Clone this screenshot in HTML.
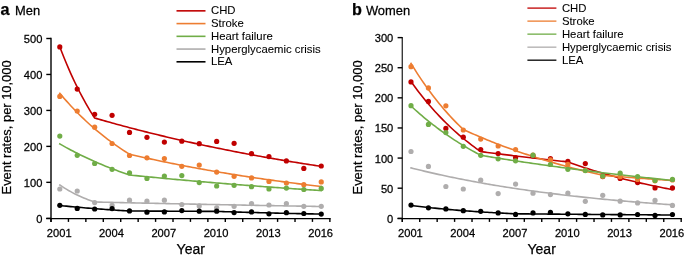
<!DOCTYPE html>
<html><head><meta charset="utf-8"><style>
html,body{margin:0;padding:0;background:#fff;width:685px;height:258px;overflow:hidden}
svg{display:block;will-change:transform}
text{font-family:"Liberation Sans", sans-serif;fill:#000;stroke:#000;stroke-width:0.25px}
.tk{font-size:11.15px}
.lg{font-size:11.35px;stroke-width:0.08px}
.ax{font-size:12.9px}
.yr{font-size:14px}
.ttl{font-size:12.9px}
.let{font-size:16.2px;font-weight:bold}
</style></head><body>
<svg width="685" height="258" viewBox="0 0 685 258">
<line x1="51.0" y1="37.80" x2="51.0" y2="221.9" stroke="#000000" stroke-width="1.4"/>
<line x1="46.2" y1="218.55" x2="330.58" y2="218.55" stroke="#000000" stroke-width="1.3"/>
<line x1="46.3" y1="218.30" x2="51.0" y2="218.30" stroke="#000000" stroke-width="1.4"/>
<text transform="translate(42.40,222.80) scale(1,1.04)" text-anchor="end" class="tk">0</text>
<line x1="46.3" y1="182.34" x2="51.0" y2="182.34" stroke="#000000" stroke-width="1.4"/>
<text transform="translate(42.40,186.84) scale(1,1.04)" text-anchor="end" class="tk">100</text>
<line x1="46.3" y1="146.38" x2="51.0" y2="146.38" stroke="#000000" stroke-width="1.4"/>
<text transform="translate(42.40,150.88) scale(1,1.04)" text-anchor="end" class="tk">200</text>
<line x1="46.3" y1="110.42" x2="51.0" y2="110.42" stroke="#000000" stroke-width="1.4"/>
<text transform="translate(42.40,114.92) scale(1,1.04)" text-anchor="end" class="tk">300</text>
<line x1="46.3" y1="74.46" x2="51.0" y2="74.46" stroke="#000000" stroke-width="1.4"/>
<text transform="translate(42.40,78.96) scale(1,1.04)" text-anchor="end" class="tk">400</text>
<line x1="46.3" y1="38.50" x2="51.0" y2="38.50" stroke="#000000" stroke-width="1.4"/>
<text transform="translate(42.40,43.00) scale(1,1.04)" text-anchor="end" class="tk">500</text>
<line x1="51.00" y1="218.3" x2="51.00" y2="221.9" stroke="#000000" stroke-width="1.4"/>
<line x1="68.43" y1="218.3" x2="68.43" y2="221.9" stroke="#000000" stroke-width="1.4"/>
<line x1="85.86" y1="218.3" x2="85.86" y2="221.9" stroke="#000000" stroke-width="1.4"/>
<line x1="103.29" y1="218.3" x2="103.29" y2="221.9" stroke="#000000" stroke-width="1.4"/>
<line x1="120.72" y1="218.3" x2="120.72" y2="221.9" stroke="#000000" stroke-width="1.4"/>
<line x1="138.15" y1="218.3" x2="138.15" y2="221.9" stroke="#000000" stroke-width="1.4"/>
<line x1="155.58" y1="218.3" x2="155.58" y2="221.9" stroke="#000000" stroke-width="1.4"/>
<line x1="173.01" y1="218.3" x2="173.01" y2="221.9" stroke="#000000" stroke-width="1.4"/>
<line x1="190.44" y1="218.3" x2="190.44" y2="221.9" stroke="#000000" stroke-width="1.4"/>
<line x1="207.87" y1="218.3" x2="207.87" y2="221.9" stroke="#000000" stroke-width="1.4"/>
<line x1="225.30" y1="218.3" x2="225.30" y2="221.9" stroke="#000000" stroke-width="1.4"/>
<line x1="242.73" y1="218.3" x2="242.73" y2="221.9" stroke="#000000" stroke-width="1.4"/>
<line x1="260.16" y1="218.3" x2="260.16" y2="221.9" stroke="#000000" stroke-width="1.4"/>
<line x1="277.59" y1="218.3" x2="277.59" y2="221.9" stroke="#000000" stroke-width="1.4"/>
<line x1="295.02" y1="218.3" x2="295.02" y2="221.9" stroke="#000000" stroke-width="1.4"/>
<line x1="312.45" y1="218.3" x2="312.45" y2="221.9" stroke="#000000" stroke-width="1.4"/>
<line x1="329.88" y1="218.3" x2="329.88" y2="221.9" stroke="#000000" stroke-width="1.4"/>
<text transform="translate(59.20,237.00) scale(1,1.04)" text-anchor="middle" class="tk">2001</text>
<text transform="translate(111.49,237.00) scale(1,1.04)" text-anchor="middle" class="tk">2004</text>
<text transform="translate(163.78,237.00) scale(1,1.04)" text-anchor="middle" class="tk">2007</text>
<text transform="translate(216.07,237.00) scale(1,1.04)" text-anchor="middle" class="tk">2010</text>
<text transform="translate(268.36,237.00) scale(1,1.04)" text-anchor="middle" class="tk">2013</text>
<text transform="translate(320.65,237.00) scale(1,1.04)" text-anchor="middle" class="tk">2016</text>
<polyline points="59.80,46.90 61.98,52.55 64.16,58.00 66.34,63.28 68.52,68.39 70.69,73.33 72.87,78.10 75.05,82.72 77.23,87.18 79.41,91.50 81.59,95.68 83.77,99.72 85.94,103.62 88.12,107.40 90.30,111.05 92.48,114.58 94.66,118.00 94.66,118.00 96.84,118.63 99.02,119.26 101.20,119.89 103.38,120.51 105.55,121.13 107.73,121.74 109.91,122.35 112.09,122.96 114.27,123.56 116.45,124.16 118.63,124.75 120.80,125.34 122.98,125.93 125.16,126.51 127.34,127.09 129.52,127.67 131.70,128.24 133.88,128.81 136.06,129.37 138.24,129.94 140.41,130.49 142.59,131.05 144.77,131.60 146.95,132.15 149.13,132.69 151.31,133.23 153.49,133.77 155.66,134.30 157.84,134.83 160.02,135.36 162.20,135.88 164.38,136.40 166.56,136.92 168.74,137.44 170.92,137.95 173.09,138.45 175.27,138.96 177.45,139.46 179.63,139.96 181.81,140.45 183.99,140.94 186.17,141.43 188.35,141.92 190.52,142.40 192.70,142.88 194.88,143.36 197.06,143.83 199.24,144.30 201.42,144.77 203.60,145.23 205.78,145.69 207.95,146.15 210.13,146.61 212.31,147.06 214.49,147.51 216.67,147.96 218.85,148.40 221.03,148.84 223.21,149.28 225.38,149.72 227.56,150.15 229.74,150.58 231.92,151.01 234.10,151.43 236.28,151.85 238.46,152.27 240.64,152.69 242.81,153.11 244.99,153.52 247.17,153.93 249.35,154.33 251.53,154.74 253.71,155.14 255.89,155.54 258.07,155.93 260.25,156.33 262.42,156.72 264.60,157.11 266.78,157.49 268.96,157.88 271.14,158.26 273.32,158.64 275.50,159.02 277.68,159.39 279.85,159.76 282.03,160.13 284.21,160.50 286.39,160.86 288.57,161.23 290.75,161.59 292.93,161.94 295.11,162.30 297.28,162.65 299.46,163.01 301.64,163.35 303.82,163.70 306.00,164.05 308.18,164.39 310.36,164.73 312.53,165.07 314.71,165.40 316.89,165.74 319.07,166.07 321.25,166.40" fill="none" stroke="#c00000" stroke-width="1.6" stroke-linejoin="round" stroke-linecap="square"/>
<polyline points="59.80,93.30 61.98,95.88 64.16,98.41 66.34,100.89 68.52,103.31 70.69,105.69 72.87,108.01 75.05,110.29 77.23,112.52 79.41,114.71 81.59,116.85 83.77,118.94 85.94,120.99 88.12,123.00 90.30,124.97 92.48,126.90 94.66,128.79 96.84,130.64 99.02,132.45 101.20,134.22 103.38,135.96 105.55,137.66 107.73,139.32 109.91,140.95 112.09,142.55 114.27,144.12 116.45,145.65 118.63,147.15 120.80,148.62 122.98,150.06 125.16,151.47 127.34,152.85 129.52,154.20 129.52,154.20 131.70,154.71 133.88,155.21 136.06,155.71 138.24,156.21 140.41,156.70 142.59,157.19 144.77,157.68 146.95,158.16 149.13,158.63 151.31,159.11 153.49,159.58 155.66,160.04 157.84,160.51 160.02,160.96 162.20,161.42 164.38,161.87 166.56,162.32 168.74,162.76 170.92,163.20 173.09,163.64 175.27,164.07 177.45,164.50 179.63,164.93 181.81,165.35 183.99,165.77 186.17,166.19 188.35,166.60 190.52,167.01 192.70,167.42 194.88,167.83 197.06,168.23 199.24,168.62 201.42,169.02 203.60,169.41 205.78,169.80 207.95,170.18 210.13,170.56 212.31,170.94 214.49,171.32 216.67,171.69 218.85,172.06 221.03,172.43 223.21,172.79 225.38,173.15 227.56,173.51 229.74,173.87 231.92,174.22 234.10,174.57 236.28,174.91 238.46,175.26 240.64,175.60 242.81,175.94 244.99,176.28 247.17,176.61 249.35,176.94 251.53,177.27 253.71,177.59 255.89,177.92 258.07,178.24 260.25,178.55 262.42,178.87 264.60,179.18 266.78,179.49 268.96,179.80 271.14,180.11 273.32,180.41 275.50,180.71 277.68,181.01 279.85,181.30 282.03,181.60 284.21,181.89 286.39,182.18 288.57,182.46 290.75,182.75 292.93,183.03 295.11,183.31 297.28,183.59 299.46,183.86 301.64,184.14 303.82,184.41 306.00,184.68 308.18,184.94 310.36,185.21 312.53,185.47 314.71,185.73 316.89,185.99 319.07,186.25 321.25,186.50" fill="none" stroke="#ed7d31" stroke-width="1.6" stroke-linejoin="round" stroke-linecap="square"/>
<polyline points="59.80,143.90 61.98,145.15 64.16,146.37 66.34,147.58 68.52,148.77 70.69,149.93 72.87,151.08 75.05,152.21 77.23,153.32 79.41,154.41 81.59,155.48 83.77,156.53 85.94,157.57 88.12,158.59 90.30,159.59 92.48,160.57 94.66,161.54 96.84,162.49 99.02,163.43 101.20,164.35 103.38,165.25 105.55,166.14 107.73,167.02 109.91,167.88 112.09,168.73 114.27,169.56 116.45,170.37 118.63,171.18 120.80,171.97 122.98,172.75 125.16,173.51 127.34,174.26 129.52,175.00 129.52,175.00 131.70,175.22 133.88,175.44 136.06,175.65 138.24,175.87 140.41,176.09 142.59,176.30 144.77,176.51 146.95,176.72 149.13,176.93 151.31,177.14 153.49,177.35 155.66,177.56 157.84,177.77 160.02,177.97 162.20,178.17 164.38,178.38 166.56,178.58 168.74,178.78 170.92,178.98 173.09,179.18 175.27,179.38 177.45,179.58 179.63,179.77 181.81,179.97 183.99,180.16 186.17,180.35 188.35,180.55 190.52,180.74 192.70,180.93 194.88,181.12 197.06,181.30 199.24,181.49 201.42,181.68 203.60,181.86 205.78,182.05 207.95,182.23 210.13,182.41 212.31,182.60 214.49,182.78 216.67,182.96 218.85,183.14 221.03,183.31 223.21,183.49 225.38,183.67 227.56,183.84 229.74,184.02 231.92,184.19 234.10,184.36 236.28,184.54 238.46,184.71 240.64,184.88 242.81,185.05 244.99,185.21 247.17,185.38 249.35,185.55 251.53,185.71 253.71,185.88 255.89,186.04 258.07,186.21 260.25,186.37 262.42,186.53 264.60,186.69 266.78,186.85 268.96,187.01 271.14,187.17 273.32,187.33 275.50,187.48 277.68,187.64 279.85,187.80 282.03,187.95 284.21,188.10 286.39,188.26 288.57,188.41 290.75,188.56 292.93,188.71 295.11,188.86 297.28,189.01 299.46,189.16 301.64,189.31 303.82,189.45 306.00,189.60 308.18,189.74 310.36,189.89 312.53,190.03 314.71,190.17 316.89,190.32 319.07,190.46 321.25,190.60" fill="none" stroke="#70ad47" stroke-width="1.6" stroke-linejoin="round" stroke-linecap="square"/>
<polyline points="59.80,185.00 61.98,186.45 64.16,187.84 66.34,189.17 68.52,190.45 70.69,191.66 72.87,192.83 75.05,193.94 77.23,195.00 79.41,196.02 81.59,196.99 83.77,197.92 85.94,198.81 88.12,199.66 90.30,200.48 92.48,201.26 94.66,202.00 94.66,202.00 96.84,202.05 99.02,202.10 101.20,202.15 103.38,202.20 105.55,202.25 107.73,202.30 109.91,202.35 112.09,202.40 114.27,202.45 116.45,202.50 118.63,202.55 120.80,202.60 122.98,202.65 125.16,202.69 127.34,202.74 129.52,202.79 131.70,202.84 133.88,202.89 136.06,202.93 138.24,202.98 140.41,203.03 142.59,203.08 144.77,203.12 146.95,203.17 149.13,203.22 151.31,203.26 153.49,203.31 155.66,203.36 157.84,203.40 160.02,203.45 162.20,203.50 164.38,203.54 166.56,203.59 168.74,203.63 170.92,203.68 173.09,203.72 175.27,203.77 177.45,203.81 179.63,203.86 181.81,203.90 183.99,203.95 186.17,203.99 188.35,204.04 190.52,204.08 192.70,204.13 194.88,204.17 197.06,204.21 199.24,204.26 201.42,204.30 203.60,204.34 205.78,204.39 207.95,204.43 210.13,204.47 212.31,204.52 214.49,204.56 216.67,204.60 218.85,204.65 221.03,204.69 223.21,204.73 225.38,204.77 227.56,204.81 229.74,204.86 231.92,204.90 234.10,204.94 236.28,204.98 238.46,205.02 240.64,205.06 242.81,205.10 244.99,205.14 247.17,205.19 249.35,205.23 251.53,205.27 253.71,205.31 255.89,205.35 258.07,205.39 260.25,205.43 262.42,205.47 264.60,205.51 266.78,205.55 268.96,205.59 271.14,205.63 273.32,205.67 275.50,205.70 277.68,205.74 279.85,205.78 282.03,205.82 284.21,205.86 286.39,205.90 288.57,205.94 290.75,205.98 292.93,206.01 295.11,206.05 297.28,206.09 299.46,206.13 301.64,206.17 303.82,206.20 306.00,206.24 308.18,206.28 310.36,206.32 312.53,206.35 314.71,206.39 316.89,206.43 319.07,206.46 321.25,206.50" fill="none" stroke="#afadad" stroke-width="1.6" stroke-linejoin="round" stroke-linecap="square"/>
<polyline points="59.80,205.50 61.98,205.72 64.16,205.94 66.34,206.16 68.52,206.37 70.69,206.58 72.87,206.78 75.05,206.98 77.23,207.18 79.41,207.37 81.59,207.56 83.77,207.75 85.94,207.93 88.12,208.11 90.30,208.29 92.48,208.46 94.66,208.63 96.84,208.80 99.02,208.97 101.20,209.13 103.38,209.29 105.55,209.45 107.73,209.60 109.91,209.75 112.09,209.90 114.27,210.05 116.45,210.19 118.63,210.33 120.80,210.47 122.98,210.61 125.16,210.74 127.34,210.87 129.52,211.00 129.52,211.00 131.70,211.01 133.88,211.02 136.06,211.03 138.24,211.04 140.41,211.05 142.59,211.06 144.77,211.07 146.95,211.08 149.13,211.09 151.31,211.10 153.49,211.11 155.66,211.12 157.84,211.13 160.02,211.14 162.20,211.15 164.38,211.16 166.56,211.17 168.74,211.18 170.92,211.19 173.09,211.20 175.27,211.21 177.45,211.22 179.63,211.23 181.81,211.24 183.99,211.25 186.17,211.26 188.35,211.27 190.52,211.28 192.70,211.29 194.88,211.30 197.06,211.31 199.24,211.32 201.42,211.33 203.60,211.34 205.78,211.35 207.95,211.36 210.13,211.37 212.31,211.38 214.49,211.39 216.67,211.40 216.67,211.40 218.85,211.47 221.03,211.54 223.21,211.61 225.38,211.68 227.56,211.75 229.74,211.82 231.92,211.88 234.10,211.95 236.28,212.01 238.46,212.08 240.64,212.14 242.81,212.21 244.99,212.27 247.17,212.33 249.35,212.39 251.53,212.45 253.71,212.51 255.89,212.57 258.07,212.63 260.25,212.69 262.42,212.75 264.60,212.80 266.78,212.86 268.96,212.92 271.14,212.97 273.32,213.03 275.50,213.08 277.68,213.13 279.85,213.19 282.03,213.24 284.21,213.29 286.39,213.34 288.57,213.40 290.75,213.45 292.93,213.50 295.11,213.55 297.28,213.59 299.46,213.64 301.64,213.69 303.82,213.74 306.00,213.78 308.18,213.83 310.36,213.88 312.53,213.92 314.71,213.97 316.89,214.01 319.07,214.06 321.25,214.10" fill="none" stroke="#000000" stroke-width="1.6" stroke-linejoin="round" stroke-linecap="square"/>
<circle cx="59.80" cy="46.90" r="2.6" fill="#c00000"/>
<circle cx="77.23" cy="89.10" r="2.6" fill="#c00000"/>
<circle cx="94.66" cy="114.30" r="2.6" fill="#c00000"/>
<circle cx="112.09" cy="115.30" r="2.6" fill="#c00000"/>
<circle cx="129.52" cy="132.40" r="2.6" fill="#c00000"/>
<circle cx="146.95" cy="137.30" r="2.6" fill="#c00000"/>
<circle cx="164.38" cy="142.10" r="2.6" fill="#c00000"/>
<circle cx="181.81" cy="141.20" r="2.6" fill="#c00000"/>
<circle cx="199.24" cy="143.70" r="2.6" fill="#c00000"/>
<circle cx="216.67" cy="141.40" r="2.6" fill="#c00000"/>
<circle cx="234.10" cy="143.30" r="2.6" fill="#c00000"/>
<circle cx="251.53" cy="153.70" r="2.6" fill="#c00000"/>
<circle cx="268.96" cy="156.60" r="2.6" fill="#c00000"/>
<circle cx="286.39" cy="160.90" r="2.6" fill="#c00000"/>
<circle cx="303.82" cy="168.40" r="2.6" fill="#c00000"/>
<circle cx="321.25" cy="166.00" r="2.6" fill="#c00000"/>
<circle cx="59.80" cy="96.40" r="2.6" fill="#ed7d31"/>
<circle cx="77.23" cy="111.00" r="2.6" fill="#ed7d31"/>
<circle cx="94.66" cy="127.20" r="2.6" fill="#ed7d31"/>
<circle cx="112.09" cy="143.50" r="2.6" fill="#ed7d31"/>
<circle cx="129.52" cy="155.50" r="2.6" fill="#ed7d31"/>
<circle cx="146.95" cy="157.80" r="2.6" fill="#ed7d31"/>
<circle cx="164.38" cy="158.60" r="2.6" fill="#ed7d31"/>
<circle cx="181.81" cy="166.30" r="2.6" fill="#ed7d31"/>
<circle cx="199.24" cy="165.10" r="2.6" fill="#ed7d31"/>
<circle cx="216.67" cy="172.10" r="2.6" fill="#ed7d31"/>
<circle cx="234.10" cy="176.30" r="2.6" fill="#ed7d31"/>
<circle cx="251.53" cy="177.90" r="2.6" fill="#ed7d31"/>
<circle cx="268.96" cy="181.40" r="2.6" fill="#ed7d31"/>
<circle cx="286.39" cy="183.00" r="2.6" fill="#ed7d31"/>
<circle cx="303.82" cy="184.70" r="2.6" fill="#ed7d31"/>
<circle cx="321.25" cy="181.90" r="2.6" fill="#ed7d31"/>
<circle cx="59.80" cy="136.10" r="2.6" fill="#70ad47"/>
<circle cx="77.23" cy="155.30" r="2.6" fill="#70ad47"/>
<circle cx="94.66" cy="163.50" r="2.6" fill="#70ad47"/>
<circle cx="112.09" cy="169.30" r="2.6" fill="#70ad47"/>
<circle cx="129.52" cy="172.90" r="2.6" fill="#70ad47"/>
<circle cx="146.95" cy="178.40" r="2.6" fill="#70ad47"/>
<circle cx="164.38" cy="176.00" r="2.6" fill="#70ad47"/>
<circle cx="181.81" cy="175.60" r="2.6" fill="#70ad47"/>
<circle cx="199.24" cy="182.60" r="2.6" fill="#70ad47"/>
<circle cx="216.67" cy="186.00" r="2.6" fill="#70ad47"/>
<circle cx="234.10" cy="185.30" r="2.6" fill="#70ad47"/>
<circle cx="251.53" cy="186.70" r="2.6" fill="#70ad47"/>
<circle cx="268.96" cy="189.00" r="2.6" fill="#70ad47"/>
<circle cx="286.39" cy="188.10" r="2.6" fill="#70ad47"/>
<circle cx="303.82" cy="189.50" r="2.6" fill="#70ad47"/>
<circle cx="321.25" cy="188.40" r="2.6" fill="#70ad47"/>
<circle cx="59.80" cy="189.00" r="2.6" fill="#afadad"/>
<circle cx="77.23" cy="191.00" r="2.6" fill="#afadad"/>
<circle cx="94.66" cy="202.60" r="2.6" fill="#afadad"/>
<circle cx="112.09" cy="205.40" r="2.6" fill="#afadad"/>
<circle cx="129.52" cy="200.20" r="2.6" fill="#afadad"/>
<circle cx="146.95" cy="201.20" r="2.6" fill="#afadad"/>
<circle cx="164.38" cy="200.20" r="2.6" fill="#afadad"/>
<circle cx="181.81" cy="204.50" r="2.6" fill="#afadad"/>
<circle cx="199.24" cy="205.90" r="2.6" fill="#afadad"/>
<circle cx="216.67" cy="207.80" r="2.6" fill="#afadad"/>
<circle cx="234.10" cy="206.30" r="2.6" fill="#afadad"/>
<circle cx="251.53" cy="203.60" r="2.6" fill="#afadad"/>
<circle cx="268.96" cy="205.00" r="2.6" fill="#afadad"/>
<circle cx="286.39" cy="203.50" r="2.6" fill="#afadad"/>
<circle cx="303.82" cy="206.30" r="2.6" fill="#afadad"/>
<circle cx="321.25" cy="206.30" r="2.6" fill="#afadad"/>
<circle cx="59.80" cy="205.30" r="2.6" fill="#000000"/>
<circle cx="77.23" cy="208.40" r="2.6" fill="#000000"/>
<circle cx="94.66" cy="209.00" r="2.6" fill="#000000"/>
<circle cx="112.09" cy="208.60" r="2.6" fill="#000000"/>
<circle cx="129.52" cy="210.90" r="2.6" fill="#000000"/>
<circle cx="146.95" cy="212.20" r="2.6" fill="#000000"/>
<circle cx="164.38" cy="211.90" r="2.6" fill="#000000"/>
<circle cx="181.81" cy="210.60" r="2.6" fill="#000000"/>
<circle cx="199.24" cy="211.20" r="2.6" fill="#000000"/>
<circle cx="216.67" cy="211.20" r="2.6" fill="#000000"/>
<circle cx="234.10" cy="212.60" r="2.6" fill="#000000"/>
<circle cx="251.53" cy="211.90" r="2.6" fill="#000000"/>
<circle cx="268.96" cy="213.80" r="2.6" fill="#000000"/>
<circle cx="286.39" cy="212.70" r="2.6" fill="#000000"/>
<circle cx="303.82" cy="213.50" r="2.6" fill="#000000"/>
<circle cx="321.25" cy="214.10" r="2.6" fill="#000000"/>
<line x1="176.5" y1="10.85" x2="205.5" y2="10.85" stroke="#c00000" stroke-width="1.6"/>
<text transform="translate(211.00,14.45) scale(1,1.04)" class="lg">CHD</text>
<line x1="176.5" y1="23.59" x2="205.5" y2="23.59" stroke="#ed7d31" stroke-width="1.6"/>
<text transform="translate(211.00,27.19) scale(1,1.04)" class="lg">Stroke</text>
<line x1="176.5" y1="36.33" x2="205.5" y2="36.33" stroke="#70ad47" stroke-width="1.6"/>
<text transform="translate(211.00,39.93) scale(1,1.04)" class="lg">Heart failure</text>
<line x1="176.5" y1="49.07" x2="205.5" y2="49.07" stroke="#afadad" stroke-width="1.6"/>
<text transform="translate(211.00,52.67) scale(1,1.04)" class="lg">Hyperglycaemic crisis</text>
<line x1="176.5" y1="61.81" x2="205.5" y2="61.81" stroke="#000000" stroke-width="1.6"/>
<text transform="translate(211.00,65.41) scale(1,1.04)" class="lg">LEA</text>
<text transform="translate(0.60,14.60) scale(1,1.0)" class="let">a</text>
<text transform="translate(15.00,14.60) scale(1,1.03)" class="ttl">Men</text>
<text transform="translate(190.75,253.50) scale(1,1.0)" text-anchor="middle" class="yr">Year</text>
<text transform="translate(11.10,127.40) rotate(-90) scale(1,1.04)" text-anchor="middle" class="ax">Event rates, per 10,000</text>
<line x1="402.3" y1="36.91" x2="402.3" y2="221.9" stroke="#3a3a3a" stroke-width="1.4"/>
<line x1="397.5" y1="218.55" x2="681.88" y2="218.55" stroke="#000000" stroke-width="1.3"/>
<line x1="397.6" y1="218.30" x2="402.3" y2="218.30" stroke="#000000" stroke-width="1.4"/>
<text transform="translate(393.30,222.80) scale(1,1.04)" text-anchor="end" class="tk">0</text>
<line x1="397.6" y1="188.19" x2="402.3" y2="188.19" stroke="#000000" stroke-width="1.4"/>
<text transform="translate(393.30,192.69) scale(1,1.04)" text-anchor="end" class="tk">50</text>
<line x1="397.6" y1="158.07" x2="402.3" y2="158.07" stroke="#000000" stroke-width="1.4"/>
<text transform="translate(393.30,162.57) scale(1,1.04)" text-anchor="end" class="tk">100</text>
<line x1="397.6" y1="127.96" x2="402.3" y2="127.96" stroke="#000000" stroke-width="1.4"/>
<text transform="translate(393.30,132.46) scale(1,1.04)" text-anchor="end" class="tk">150</text>
<line x1="397.6" y1="97.84" x2="402.3" y2="97.84" stroke="#000000" stroke-width="1.4"/>
<text transform="translate(393.30,102.34) scale(1,1.04)" text-anchor="end" class="tk">200</text>
<line x1="397.6" y1="67.73" x2="402.3" y2="67.73" stroke="#000000" stroke-width="1.4"/>
<text transform="translate(393.30,72.23) scale(1,1.04)" text-anchor="end" class="tk">250</text>
<line x1="397.6" y1="37.61" x2="402.3" y2="37.61" stroke="#000000" stroke-width="1.4"/>
<text transform="translate(393.30,42.11) scale(1,1.04)" text-anchor="end" class="tk">300</text>
<line x1="402.30" y1="218.3" x2="402.30" y2="221.9" stroke="#000000" stroke-width="1.4"/>
<line x1="419.73" y1="218.3" x2="419.73" y2="221.9" stroke="#000000" stroke-width="1.4"/>
<line x1="437.16" y1="218.3" x2="437.16" y2="221.9" stroke="#000000" stroke-width="1.4"/>
<line x1="454.59" y1="218.3" x2="454.59" y2="221.9" stroke="#000000" stroke-width="1.4"/>
<line x1="472.02" y1="218.3" x2="472.02" y2="221.9" stroke="#000000" stroke-width="1.4"/>
<line x1="489.45" y1="218.3" x2="489.45" y2="221.9" stroke="#000000" stroke-width="1.4"/>
<line x1="506.88" y1="218.3" x2="506.88" y2="221.9" stroke="#000000" stroke-width="1.4"/>
<line x1="524.31" y1="218.3" x2="524.31" y2="221.9" stroke="#000000" stroke-width="1.4"/>
<line x1="541.74" y1="218.3" x2="541.74" y2="221.9" stroke="#000000" stroke-width="1.4"/>
<line x1="559.17" y1="218.3" x2="559.17" y2="221.9" stroke="#000000" stroke-width="1.4"/>
<line x1="576.60" y1="218.3" x2="576.60" y2="221.9" stroke="#000000" stroke-width="1.4"/>
<line x1="594.03" y1="218.3" x2="594.03" y2="221.9" stroke="#000000" stroke-width="1.4"/>
<line x1="611.46" y1="218.3" x2="611.46" y2="221.9" stroke="#000000" stroke-width="1.4"/>
<line x1="628.89" y1="218.3" x2="628.89" y2="221.9" stroke="#000000" stroke-width="1.4"/>
<line x1="646.32" y1="218.3" x2="646.32" y2="221.9" stroke="#000000" stroke-width="1.4"/>
<line x1="663.75" y1="218.3" x2="663.75" y2="221.9" stroke="#000000" stroke-width="1.4"/>
<line x1="681.18" y1="218.3" x2="681.18" y2="221.9" stroke="#000000" stroke-width="1.4"/>
<text transform="translate(410.40,237.00) scale(1,1.04)" text-anchor="middle" class="tk">2001</text>
<text transform="translate(462.69,237.00) scale(1,1.04)" text-anchor="middle" class="tk">2004</text>
<text transform="translate(514.98,237.00) scale(1,1.04)" text-anchor="middle" class="tk">2007</text>
<text transform="translate(567.27,237.00) scale(1,1.04)" text-anchor="middle" class="tk">2010</text>
<text transform="translate(619.56,237.00) scale(1,1.04)" text-anchor="middle" class="tk">2013</text>
<text transform="translate(671.85,237.00) scale(1,1.04)" text-anchor="middle" class="tk">2016</text>
<polyline points="411.00,81.50 413.18,84.54 415.36,87.51 417.54,90.41 419.71,93.25 421.89,96.02 424.07,98.74 426.25,101.39 428.43,103.99 430.61,106.52 432.79,109.01 434.97,111.43 437.14,113.80 439.32,116.12 441.50,118.39 443.68,120.61 445.86,122.78 448.04,124.90 450.22,126.97 452.40,129.00 454.57,130.98 456.75,132.92 458.93,134.81 461.11,136.67 463.29,138.48 465.47,140.25 467.65,141.98 469.83,143.68 472.00,145.33 474.18,146.95 476.36,148.54 478.54,150.09 480.72,151.60 480.72,151.60 482.90,151.88 485.08,152.16 487.26,152.43 489.44,152.71 491.61,152.98 493.79,153.26 495.97,153.53 498.15,153.80 500.33,154.07 502.51,154.34 504.69,154.61 506.87,154.87 509.04,155.14 511.22,155.40 513.40,155.67 515.58,155.93 517.76,156.19 519.94,156.45 522.12,156.71 524.29,156.97 526.47,157.22 528.65,157.48 530.83,157.73 533.01,157.99 535.19,158.24 537.37,158.49 539.55,158.74 541.73,158.99 543.90,159.24 546.08,159.48 548.26,159.73 550.44,159.98 552.62,160.22 554.80,160.46 556.98,160.70 559.15,160.95 561.33,161.19 563.51,161.42 565.69,161.66 567.87,161.90 567.87,161.90 570.05,162.69 572.23,163.47 574.41,164.23 576.59,164.99 578.76,165.73 580.94,166.47 583.12,167.19 585.30,167.91 587.48,168.61 589.66,169.30 591.84,169.99 594.01,170.66 596.19,171.33 598.37,171.99 600.55,172.63 602.73,173.27 604.91,173.90 607.09,174.52 609.27,175.13 611.44,175.74 613.62,176.33 615.80,176.92 617.98,177.50 620.16,178.07 622.34,178.63 624.52,179.18 626.70,179.73 628.88,180.27 631.05,180.80 633.23,181.33 635.41,181.84 637.59,182.35 639.77,182.85 641.95,183.35 644.13,183.84 646.31,184.32 648.48,184.79 650.66,185.26 652.84,185.72 655.02,186.18 657.20,186.63 659.38,187.07 661.56,187.51 663.74,187.94 665.91,188.36 668.09,188.78 670.27,189.19 672.45,189.60" fill="none" stroke="#c00000" stroke-width="1.6" stroke-linejoin="round" stroke-linecap="square"/>
<polyline points="411.00,63.40 413.18,66.95 415.36,70.42 417.54,73.81 419.71,77.12 421.89,80.35 424.07,83.51 426.25,86.60 428.43,89.62 430.61,92.57 432.79,95.45 434.97,98.27 437.14,101.02 439.32,103.71 441.50,106.33 443.68,108.90 445.86,111.40 448.04,113.85 450.22,116.25 452.40,118.59 454.57,120.87 456.75,123.10 458.93,125.29 461.11,127.42 463.29,129.50 463.29,129.50 465.47,130.50 467.65,131.49 469.83,132.47 472.00,133.43 474.18,134.39 476.36,135.34 478.54,136.27 480.72,137.20 482.90,138.11 485.08,139.01 487.26,139.91 489.44,140.79 491.61,141.66 493.79,142.53 495.97,143.38 498.15,144.22 500.33,145.06 502.51,145.88 504.69,146.70 506.87,147.51 509.04,148.30 511.22,149.09 513.40,149.87 515.58,150.64 517.76,151.41 519.94,152.16 522.12,152.90 524.29,153.64 526.47,154.37 528.65,155.09 530.83,155.80 533.01,156.51 535.19,157.20 537.37,157.89 539.55,158.57 541.73,159.24 543.90,159.91 546.08,160.57 548.26,161.22 550.44,161.86 552.62,162.50 554.80,163.13 556.98,163.75 559.15,164.36 561.33,164.97 563.51,165.57 565.69,166.17 567.87,166.75 570.05,167.33 572.23,167.91 574.41,168.48 576.59,169.04 578.76,169.59 580.94,170.14 583.12,170.68 585.30,171.22 587.48,171.75 589.66,172.27 591.84,172.79 594.01,173.31 596.19,173.81 598.37,174.31 600.55,174.81 602.73,175.30 602.73,175.30 604.91,175.48 607.09,175.65 609.27,175.83 611.44,176.00 613.62,176.17 615.80,176.35 617.98,176.52 620.16,176.69 622.34,176.86 624.52,177.03 626.70,177.20 628.88,177.37 631.05,177.54 633.23,177.70 635.41,177.87 637.59,178.04 639.77,178.20 641.95,178.37 644.13,178.53 646.31,178.69 648.48,178.86 650.66,179.02 652.84,179.18 655.02,179.34 657.20,179.50 659.38,179.66 661.56,179.82 663.74,179.97 665.91,180.13 668.09,180.29 670.27,180.44 672.45,180.60" fill="none" stroke="#ed7d31" stroke-width="1.6" stroke-linejoin="round" stroke-linecap="square"/>
<polyline points="411.00,106.00 413.18,108.01 415.36,109.98 417.54,111.92 419.71,113.83 421.89,115.70 424.07,117.53 426.25,119.34 428.43,121.11 430.61,122.85 432.79,124.56 434.97,126.24 437.14,127.89 439.32,129.50 441.50,131.09 443.68,132.65 445.86,134.19 448.04,135.69 450.22,137.17 452.40,138.62 454.57,140.05 456.75,141.45 458.93,142.83 461.11,144.18 463.29,145.51 465.47,146.81 467.65,148.09 469.83,149.35 472.00,150.58 474.18,151.79 476.36,152.98 478.54,154.15 480.72,155.30 480.72,155.30 482.90,155.66 485.08,156.02 487.26,156.38 489.44,156.74 491.61,157.09 493.79,157.45 495.97,157.80 498.15,158.14 500.33,158.49 502.51,158.84 504.69,159.18 506.87,159.52 509.04,159.86 511.22,160.19 513.40,160.53 515.58,160.86 517.76,161.19 519.94,161.52 522.12,161.85 524.29,162.17 526.47,162.49 528.65,162.82 530.83,163.14 533.01,163.45 535.19,163.77 537.37,164.08 539.55,164.40 541.73,164.71 543.90,165.01 546.08,165.32 548.26,165.63 550.44,165.93 552.62,166.23 554.80,166.53 556.98,166.83 559.15,167.13 561.33,167.42 563.51,167.71 565.69,168.00 567.87,168.29 570.05,168.58 572.23,168.87 574.41,169.15 576.59,169.44 578.76,169.72 580.94,170.00 583.12,170.28 585.30,170.55 587.48,170.83 589.66,171.10 591.84,171.37 594.01,171.64 596.19,171.91 598.37,172.18 600.55,172.44 602.73,172.71 604.91,172.97 607.09,173.23 609.27,173.49 611.44,173.75 613.62,174.01 615.80,174.26 617.98,174.51 620.16,174.77 622.34,175.02 624.52,175.27 626.70,175.51 628.88,175.76 631.05,176.00 633.23,176.25 635.41,176.49 637.59,176.73 639.77,176.97 641.95,177.21 644.13,177.45 646.31,177.68 648.48,177.91 650.66,178.15 652.84,178.38 655.02,178.61 657.20,178.84 659.38,179.06 661.56,179.29 663.74,179.51 665.91,179.74 668.09,179.96 670.27,180.18 672.45,180.40" fill="none" stroke="#70ad47" stroke-width="1.6" stroke-linejoin="round" stroke-linecap="square"/>
<polyline points="411.00,167.90 413.18,168.45 415.36,168.99 417.54,169.53 419.71,170.07 421.89,170.59 424.07,171.11 426.25,171.63 428.43,172.14 430.61,172.64 432.79,173.14 434.97,173.63 437.14,174.12 439.32,174.60 441.50,175.08 443.68,175.55 445.86,176.02 448.04,176.48 450.22,176.94 452.40,177.39 454.57,177.83 456.75,178.28 458.93,178.71 461.11,179.15 463.29,179.57 465.47,180.00 467.65,180.41 469.83,180.83 472.00,181.24 474.18,181.64 476.36,182.04 478.54,182.44 480.72,182.83 482.90,183.22 485.08,183.60 487.26,183.98 489.44,184.35 491.61,184.72 493.79,185.09 495.97,185.45 498.15,185.81 500.33,186.17 502.51,186.52 504.69,186.86 506.87,187.21 509.04,187.55 511.22,187.88 513.40,188.21 515.58,188.54 517.76,188.87 519.94,189.19 522.12,189.51 524.29,189.82 526.47,190.13 528.65,190.44 530.83,190.74 533.01,191.04 535.19,191.34 537.37,191.64 539.55,191.93 541.73,192.22 543.90,192.50 546.08,192.78 548.26,193.06 550.44,193.34 552.62,193.61 554.80,193.88 556.98,194.14 559.15,194.41 561.33,194.67 563.51,194.93 565.69,195.18 567.87,195.43 570.05,195.68 572.23,195.93 574.41,196.18 576.59,196.42 578.76,196.66 580.94,196.89 583.12,197.13 585.30,197.36 587.48,197.59 589.66,197.81 591.84,198.04 594.01,198.26 596.19,198.48 598.37,198.69 600.55,198.91 602.73,199.12 604.91,199.33 607.09,199.53 609.27,199.74 611.44,199.94 613.62,200.14 615.80,200.34 617.98,200.54 620.16,200.73 622.34,200.92 624.52,201.11 626.70,201.30 628.88,201.49 631.05,201.67 633.23,201.85 635.41,202.03 637.59,202.21 639.77,202.38 641.95,202.56 644.13,202.73 646.31,202.90 648.48,203.07 650.66,203.23 652.84,203.40 655.02,203.56 657.20,203.72 659.38,203.88 661.56,204.04 663.74,204.19 665.91,204.35 668.09,204.50 670.27,204.65 672.45,204.80" fill="none" stroke="#afadad" stroke-width="1.6" stroke-linejoin="round" stroke-linecap="square"/>
<polyline points="411.00,205.40 413.18,205.68 415.36,205.95 417.54,206.22 419.71,206.48 421.89,206.74 424.07,206.99 426.25,207.24 428.43,207.48 430.61,207.71 432.79,207.94 434.97,208.17 437.14,208.39 439.32,208.60 441.50,208.81 443.68,209.02 445.86,209.22 448.04,209.42 450.22,209.61 452.40,209.80 454.57,209.98 456.75,210.16 458.93,210.34 461.11,210.51 463.29,210.68 465.47,210.85 467.65,211.01 469.83,211.17 472.00,211.32 474.18,211.47 476.36,211.62 478.54,211.77 480.72,211.91 482.90,212.05 485.08,212.18 487.26,212.31 489.44,212.44 491.61,212.57 493.79,212.70 495.97,212.82 498.15,212.94 500.33,213.05 502.51,213.17 504.69,213.28 506.87,213.39 509.04,213.49 511.22,213.60 513.40,213.70 515.58,213.80 515.58,213.80 517.76,213.82 519.94,213.84 522.12,213.86 524.29,213.88 526.47,213.90 528.65,213.91 530.83,213.93 533.01,213.95 535.19,213.97 537.37,213.99 539.55,214.01 541.73,214.03 543.90,214.05 546.08,214.06 548.26,214.08 550.44,214.10 552.62,214.12 554.80,214.14 556.98,214.15 559.15,214.17 561.33,214.19 563.51,214.21 565.69,214.22 567.87,214.24 570.05,214.26 572.23,214.28 574.41,214.29 576.59,214.31 578.76,214.33 580.94,214.35 583.12,214.36 585.30,214.38 587.48,214.40 589.66,214.41 591.84,214.43 594.01,214.45 596.19,214.46 598.37,214.48 600.55,214.50 602.73,214.51 604.91,214.53 607.09,214.54 609.27,214.56 611.44,214.58 613.62,214.59 615.80,214.61 617.98,214.62 620.16,214.64 622.34,214.66 624.52,214.67 626.70,214.69 628.88,214.70 631.05,214.72 633.23,214.73 635.41,214.75 637.59,214.76 639.77,214.78 641.95,214.79 644.13,214.81 646.31,214.82 648.48,214.84 650.66,214.85 652.84,214.87 655.02,214.88 657.20,214.90 659.38,214.91 661.56,214.93 663.74,214.94 665.91,214.96 668.09,214.97 670.27,214.99 672.45,215.00" fill="none" stroke="#000000" stroke-width="1.6" stroke-linejoin="round" stroke-linecap="square"/>
<circle cx="411.00" cy="81.90" r="2.6" fill="#c00000"/>
<circle cx="428.43" cy="101.40" r="2.6" fill="#c00000"/>
<circle cx="445.86" cy="128.40" r="2.6" fill="#c00000"/>
<circle cx="463.29" cy="137.20" r="2.6" fill="#c00000"/>
<circle cx="480.72" cy="149.50" r="2.6" fill="#c00000"/>
<circle cx="498.15" cy="153.50" r="2.6" fill="#c00000"/>
<circle cx="515.58" cy="157.60" r="2.6" fill="#c00000"/>
<circle cx="533.01" cy="156.00" r="2.6" fill="#c00000"/>
<circle cx="550.44" cy="158.50" r="2.6" fill="#c00000"/>
<circle cx="567.87" cy="161.30" r="2.6" fill="#c00000"/>
<circle cx="585.30" cy="163.60" r="2.6" fill="#c00000"/>
<circle cx="602.73" cy="176.60" r="2.6" fill="#c00000"/>
<circle cx="620.16" cy="178.40" r="2.6" fill="#c00000"/>
<circle cx="637.59" cy="182.60" r="2.6" fill="#c00000"/>
<circle cx="655.02" cy="187.90" r="2.6" fill="#c00000"/>
<circle cx="672.45" cy="187.90" r="2.6" fill="#c00000"/>
<circle cx="411.00" cy="66.70" r="2.6" fill="#ed7d31"/>
<circle cx="428.43" cy="87.90" r="2.6" fill="#ed7d31"/>
<circle cx="445.86" cy="105.80" r="2.6" fill="#ed7d31"/>
<circle cx="463.29" cy="130.00" r="2.6" fill="#ed7d31"/>
<circle cx="480.72" cy="139.10" r="2.6" fill="#ed7d31"/>
<circle cx="498.15" cy="146.00" r="2.6" fill="#ed7d31"/>
<circle cx="515.58" cy="149.60" r="2.6" fill="#ed7d31"/>
<circle cx="533.01" cy="155.00" r="2.6" fill="#ed7d31"/>
<circle cx="550.44" cy="159.90" r="2.6" fill="#ed7d31"/>
<circle cx="567.87" cy="164.40" r="2.6" fill="#ed7d31"/>
<circle cx="585.30" cy="170.40" r="2.6" fill="#ed7d31"/>
<circle cx="602.73" cy="176.30" r="2.6" fill="#ed7d31"/>
<circle cx="620.16" cy="176.70" r="2.6" fill="#ed7d31"/>
<circle cx="637.59" cy="179.50" r="2.6" fill="#ed7d31"/>
<circle cx="655.02" cy="180.80" r="2.6" fill="#ed7d31"/>
<circle cx="672.45" cy="180.00" r="2.6" fill="#ed7d31"/>
<circle cx="411.00" cy="105.70" r="2.6" fill="#70ad47"/>
<circle cx="428.43" cy="124.40" r="2.6" fill="#70ad47"/>
<circle cx="445.86" cy="132.60" r="2.6" fill="#70ad47"/>
<circle cx="463.29" cy="146.30" r="2.6" fill="#70ad47"/>
<circle cx="480.72" cy="155.30" r="2.6" fill="#70ad47"/>
<circle cx="498.15" cy="158.80" r="2.6" fill="#70ad47"/>
<circle cx="515.58" cy="160.80" r="2.6" fill="#70ad47"/>
<circle cx="533.01" cy="155.20" r="2.6" fill="#70ad47"/>
<circle cx="550.44" cy="164.50" r="2.6" fill="#70ad47"/>
<circle cx="567.87" cy="169.30" r="2.6" fill="#70ad47"/>
<circle cx="585.30" cy="170.60" r="2.6" fill="#70ad47"/>
<circle cx="602.73" cy="176.00" r="2.6" fill="#70ad47"/>
<circle cx="620.16" cy="173.20" r="2.6" fill="#70ad47"/>
<circle cx="637.59" cy="176.60" r="2.6" fill="#70ad47"/>
<circle cx="655.02" cy="180.50" r="2.6" fill="#70ad47"/>
<circle cx="672.45" cy="179.40" r="2.6" fill="#70ad47"/>
<circle cx="411.00" cy="151.50" r="2.6" fill="#afadad"/>
<circle cx="428.43" cy="166.40" r="2.6" fill="#afadad"/>
<circle cx="445.86" cy="186.50" r="2.6" fill="#afadad"/>
<circle cx="463.29" cy="189.00" r="2.6" fill="#afadad"/>
<circle cx="480.72" cy="180.20" r="2.6" fill="#afadad"/>
<circle cx="498.15" cy="193.60" r="2.6" fill="#afadad"/>
<circle cx="515.58" cy="184.10" r="2.6" fill="#afadad"/>
<circle cx="533.01" cy="193.20" r="2.6" fill="#afadad"/>
<circle cx="550.44" cy="194.60" r="2.6" fill="#afadad"/>
<circle cx="567.87" cy="193.20" r="2.6" fill="#afadad"/>
<circle cx="585.30" cy="201.30" r="2.6" fill="#afadad"/>
<circle cx="602.73" cy="195.30" r="2.6" fill="#afadad"/>
<circle cx="620.16" cy="201.20" r="2.6" fill="#afadad"/>
<circle cx="637.59" cy="202.90" r="2.6" fill="#afadad"/>
<circle cx="655.02" cy="200.40" r="2.6" fill="#afadad"/>
<circle cx="672.45" cy="205.40" r="2.6" fill="#afadad"/>
<circle cx="411.00" cy="205.10" r="2.6" fill="#000000"/>
<circle cx="428.43" cy="207.80" r="2.6" fill="#000000"/>
<circle cx="445.86" cy="208.90" r="2.6" fill="#000000"/>
<circle cx="463.29" cy="210.70" r="2.6" fill="#000000"/>
<circle cx="480.72" cy="211.30" r="2.6" fill="#000000"/>
<circle cx="498.15" cy="212.90" r="2.6" fill="#000000"/>
<circle cx="515.58" cy="214.40" r="2.6" fill="#000000"/>
<circle cx="533.01" cy="212.90" r="2.6" fill="#000000"/>
<circle cx="550.44" cy="212.30" r="2.6" fill="#000000"/>
<circle cx="567.87" cy="213.80" r="2.6" fill="#000000"/>
<circle cx="585.30" cy="214.40" r="2.6" fill="#000000"/>
<circle cx="602.73" cy="214.90" r="2.6" fill="#000000"/>
<circle cx="620.16" cy="214.90" r="2.6" fill="#000000"/>
<circle cx="637.59" cy="214.50" r="2.6" fill="#000000"/>
<circle cx="655.02" cy="215.40" r="2.6" fill="#000000"/>
<circle cx="672.45" cy="214.50" r="2.6" fill="#000000"/>
<line x1="527.4" y1="8.10" x2="556.4" y2="8.10" stroke="#c00000" stroke-width="1.3"/>
<text transform="translate(561.90,11.90) scale(1,1.04)" class="lg">CHD</text>
<line x1="527.4" y1="21.12" x2="556.4" y2="21.12" stroke="#ed7d31" stroke-width="1.3"/>
<text transform="translate(561.90,24.92) scale(1,1.04)" class="lg">Stroke</text>
<line x1="527.4" y1="34.14" x2="556.4" y2="34.14" stroke="#70ad47" stroke-width="1.3"/>
<text transform="translate(561.90,37.94) scale(1,1.04)" class="lg">Heart failure</text>
<line x1="527.4" y1="47.16" x2="556.4" y2="47.16" stroke="#afadad" stroke-width="1.3"/>
<text transform="translate(561.90,50.96) scale(1,1.04)" class="lg">Hyperglycaemic crisis</text>
<line x1="527.4" y1="60.18" x2="556.4" y2="60.18" stroke="#000000" stroke-width="1.3"/>
<text transform="translate(561.90,63.98) scale(1,1.04)" class="lg">LEA</text>
<text transform="translate(352.10,14.60) scale(1,1.0)" class="let">b</text>
<text transform="translate(365.90,14.60) scale(1,1.03)" class="ttl">Women</text>
<text transform="translate(541.65,253.50) scale(1,1.0)" text-anchor="middle" class="yr">Year</text>
<text transform="translate(362.00,127.40) rotate(-90) scale(1,1.04)" text-anchor="middle" class="ax">Event rates, per 10,000</text>
</svg>
</body></html>
